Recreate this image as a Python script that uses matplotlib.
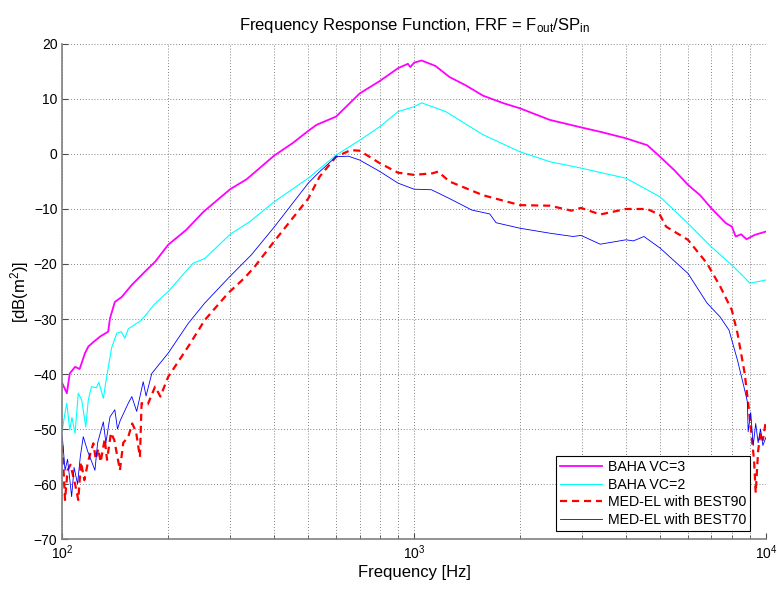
import numpy as np
import matplotlib
matplotlib.use("Agg")
import matplotlib.pyplot as plt
from matplotlib.ticker import LogLocator, NullLocator, NullFormatter, MultipleLocator

plt.rcParams['font.family'] = ['Liberation Sans', 'DejaVu Sans']
plt.rcParams['mathtext.fontset'] = 'custom'
plt.rcParams['mathtext.rm'] = 'Liberation Sans'
plt.rcParams['mathtext.default'] = 'regular'

# BAHA VC=3
f_vc3 = [100, 103, 105, 108.7, 112, 116, 118.6, 122.5, 128, 135, 136.6, 141, 147.5, 157.6,
         171.7, 183.5, 200, 225, 252, 300, 334, 400, 452, 500, 528, 600, 700, 800, 900, 960,
         975, 1000, 1050, 1150, 1260, 1400, 1570, 1800, 2000, 2430, 3000, 3400, 4000, 4600,
         5000, 5500, 6000, 6500, 7000, 7700, 8000, 8200, 8500, 8800, 9300, 10000]
v_vc3 = [-41.7, -43.5, -39.9, -38.7, -39.1, -36.2, -35, -34.2, -33.2, -32.3, -29.9, -26.9, -26,
         -23.8, -21.4, -19.6, -16.5, -13.8, -10.5, -6.4, -4.6, -0.3, 2, 4.2, 5.3, 6.8, 11, 13.3,
         15.6, 16.4, 15.8, 16.6, 17, 16, 14, 12.5, 10.6, 9.2, 8.3, 6.2, 4.8, 4, 2.85, 1.6, -0.5,
         -3, -5.6, -7.5, -9.9, -12.6, -13.2, -15, -14.6, -15.5, -14.7, -14.1]

# BAHA VC=2
f_vc2 = [100, 101.5, 103, 105, 106.5, 108.7, 111, 113.5, 116.6, 118.5, 121, 125, 127, 130.8,
         133.7, 138, 142.8, 147, 150.6, 154, 168, 183.5, 200, 235, 254, 300, 341, 400, 500, 600,
         700, 800, 900, 1000, 1050, 1230, 1570, 2000, 2430, 3000, 3400, 4000, 5000, 6000, 7000,
         8000, 8300, 8700, 9000, 9500, 10000]
v_vc2 = [-50.2, -47.5, -45.3, -50.2, -47.9, -50.8, -43.5, -44.7, -49.6, -44.8, -42.3, -42.5,
         -41.5, -44.4, -40.5, -35.3, -32.6, -32.3, -33.5, -31.8, -30.2, -27.2, -25, -19.9, -19,
         -14.6, -12.3, -8.7, -4.4, -0.2, 2.5, 5, 7.7, 8.6, 9.3, 7.7, 3.5, 0.4, -1.4, -2.6, -3.4,
         -4.4, -7.8, -12.6, -16.9, -20.2, -21.2, -22.5, -23.5, -23.2, -22.9]

# MED-EL with BEST90
f_b90 = [100, 101.8, 103.5, 105.5, 108.7, 111, 113, 115.5, 118.6, 122.5, 124.5, 126.5, 128.5,
         132, 134, 137.5, 140.5, 145.8, 149, 154, 158, 162, 166.2, 168, 175, 183.5, 190, 200,
         228, 254, 296, 330, 352, 400, 500, 539, 600, 660, 700, 800, 900, 1000, 1130, 1170,
         1260, 1570, 2000, 2430, 2800, 2980, 3380, 4000, 4600, 5000, 5200, 6000, 6800, 7400,
         8000, 8300, 8700, 8950, 9250, 9350, 9500, 9650, 9800, 10000]
v_b90 = [-53, -62.9, -57.5, -56.5, -60, -62.9, -56, -59.3, -55.7, -52.6, -55.5, -53.6, -56,
         -51.8, -55.6, -50.7, -52, -57.5, -52.5, -51.4, -49, -50.5, -55.1, -45.3, -45.5, -42.3,
         -44.1, -40.5, -35, -30.2, -25.3, -22.5, -20.5, -15.9, -8.1, -4.1, -0.5, 0.7, 0.6, -1.7,
         -3.4, -3.8, -3.5, -3.2, -5, -7.5, -9.3, -9.4, -10.3, -9.8, -11, -10, -10, -11.1, -13.2,
         -15.6, -19.9, -24, -28.4, -32.6, -39.9, -46.6, -55.7, -61.6, -54, -50.7, -52, -48.4]

# MED-EL with BEST70
f_b70 = [100, 101.8, 103.5, 106.3, 108, 110.5, 112.5, 114.7, 118, 123.8, 126, 130.8, 133,
         136.6, 141, 143.5, 146, 154, 157.6, 162.7, 169.8, 173, 179.6, 200, 228, 254, 296, 345,
         400, 500, 539, 600, 650, 700, 800, 900, 1000, 1120, 1260, 1460, 1640, 1710, 2000, 2430,
         2830, 2980, 3380, 4000, 4200, 4500, 5000, 6000, 6800, 7400, 7850, 8300, 8700, 8850,
         8900, 9050, 9200, 9350, 9500, 9650, 9800, 10000]
v_b70 = [-51.4, -57.5, -55.5, -62.3, -57, -60, -55, -51.4, -54, -57.5, -52.5, -48.7, -52.5,
         -47.8, -46.5, -50, -48.5, -45.3, -44.1, -46.8, -41.4, -44, -39.9, -36.2, -30.8, -27.1,
         -22.6, -18.3, -13.3, -5.3, -3.2, -0.5, -0.4, -1.1, -3.2, -5.3, -6.4, -6.5, -8.1, -10.2,
         -10.9, -12.5, -13.5, -14.4, -15, -14.8, -16.4, -15.6, -15.8, -15, -17.1, -21.7, -27.1,
         -29.6, -32, -37.5, -42.9, -45, -50.5, -47, -53, -49, -52.5, -50, -53, -51.5]

fig = plt.figure(figsize=(7.77, 5.92), dpi=100)
ax = fig.add_axes([0.0802, 0.0895, 0.9056, 0.8362])

ax.semilogx(f_vc3, v_vc3, color='#ff00ff', linewidth=1.3, label='BAHA VC=3')
ax.semilogx(f_vc2, v_vc2, color='#00ffff', linewidth=0.8, label='BAHA VC=2')
ax.semilogx(f_b90, v_b90, color='#ff0000', linewidth=1.6, dashes=(3.2, 2.2),
            label='MED-EL with BEST90')
ax.semilogx(f_b70, v_b70, color='#0000ff', linewidth=0.6, label='MED-EL with BEST70')

ax.set_xlim(100, 10000)
ax.set_ylim(-70, 20)
ax.yaxis.set_major_locator(MultipleLocator(10))
ax.yaxis.set_minor_locator(NullLocator())
ax.xaxis.set_major_locator(LogLocator(base=10))
ax.xaxis.set_minor_locator(LogLocator(base=10, subs=np.arange(2, 10)))
ax.xaxis.set_minor_formatter(NullFormatter())

ax.grid(True, which='both', axis='x', linestyle=(0, (1, 2.5)), color='0.35', linewidth=0.6)
ax.grid(True, which='major', axis='y', linestyle=(0, (1, 2.5)), color='0.35', linewidth=0.6)

for side in ['top', 'right']:
    ax.spines[side].set_visible(False)
for side in ['left', 'bottom']:
    ax.spines[side].set_color('0.5')
    ax.spines[side].set_linewidth(1.2)

ax.tick_params(which='both', direction='in', labelsize=10, color='0.3')
ax.tick_params(which='major', length=4)
ax.tick_params(which='minor', length=3)

ax.set_title('Frequency Response Function, FRF = F$_{out}$/SP$_{in}$', fontsize=12, pad=10)
ax.set_xlabel('Frequency [Hz]', fontsize=12, labelpad=2)
ax.set_ylabel('[dB(m$^{2}$)]', fontsize=12, labelpad=2)

leg = ax.legend(loc='lower right', bbox_to_anchor=(0.978, 0.016), fontsize=10.2,
                fancybox=False, framealpha=1, edgecolor='black', borderaxespad=0,
                handlelength=3.0, labelspacing=0.25, borderpad=0.3, handletextpad=0.4)
leg.get_frame().set_linewidth(0.8)

plt.savefig("out.png", dpi=100)
